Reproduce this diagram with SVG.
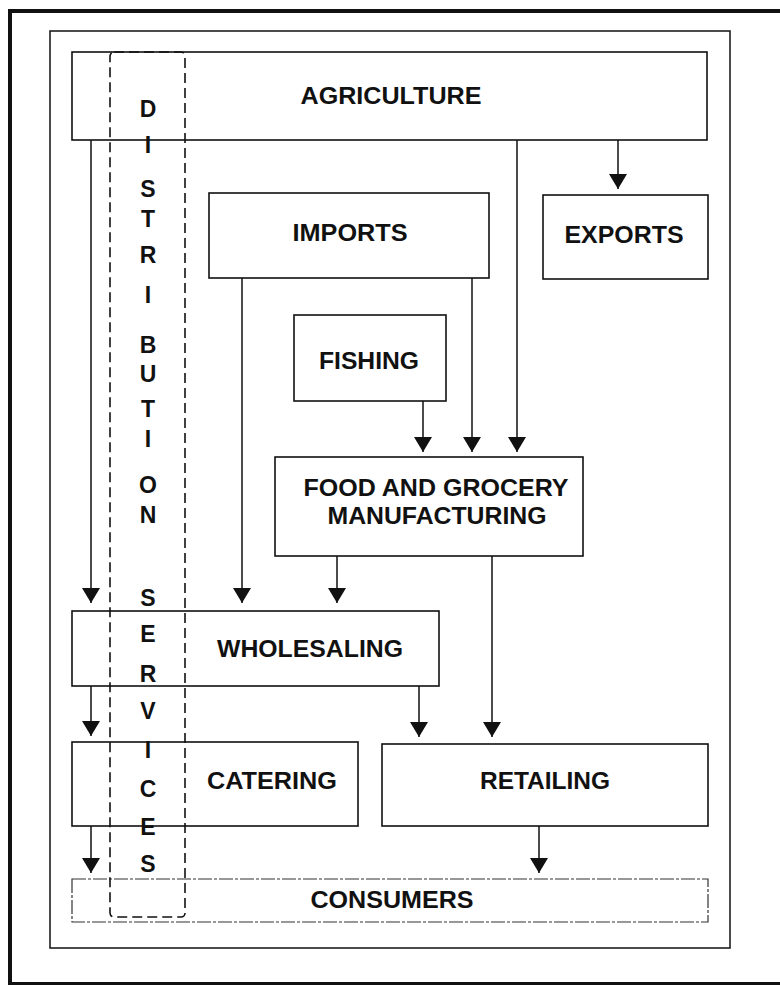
<svg xmlns="http://www.w3.org/2000/svg" width="780" height="985" viewBox="0 0 780 985">
<style>
.box{fill:none;stroke:#111;stroke-width:1.6}
.lbl{font-family:"Liberation Sans",Arial,sans-serif;font-weight:bold;font-size:24px;fill:#111;text-anchor:middle}
.ltr{font-family:"Liberation Sans",Arial,sans-serif;font-weight:bold;font-size:23px;fill:#111;text-anchor:middle}
.con{stroke:#111;stroke-width:1.5;fill:none;marker-end:url(#ah)}
</style>
<defs>
<marker id="ah" markerUnits="userSpaceOnUse" markerWidth="15" markerHeight="18" refX="15" refY="9" orient="auto" viewBox="0 0 15 18">
<path d="M0,0 L15,9 L0,18 z" fill="#111"/>
</marker>
</defs>
<rect width="780" height="985" fill="#fff"/>
<g id="frames">
<rect x="10" y="11" width="790" height="973" fill="none" stroke="#111" stroke-width="4"/>
<rect x="50" y="31" width="680" height="917" fill="none" stroke="#111" stroke-width="1.5"/>
</g>
<g id="agriculture">
<rect class="box" x="72" y="52" width="635" height="88"/>
<text class="lbl" x="391" y="104" textLength="181" lengthAdjust="spacingAndGlyphs">AGRICULTURE</text>
</g>
<g id="imports">
<rect class="box" x="209" y="193" width="280" height="85"/>
<text class="lbl" x="350" y="241" textLength="115" lengthAdjust="spacingAndGlyphs">IMPORTS</text>
</g>
<g id="exports">
<rect class="box" x="543" y="195" width="165" height="84"/>
<text class="lbl" x="624" y="243" textLength="119" lengthAdjust="spacingAndGlyphs">EXPORTS</text>
</g>
<g id="fishing">
<rect class="box" x="294" y="315" width="152" height="86"/>
<text class="lbl" x="369" y="369" textLength="100" lengthAdjust="spacingAndGlyphs">FISHING</text>
</g>
<g id="food">
<rect class="box" x="275" y="457" width="308" height="99"/>
<text class="lbl" x="436" y="496" textLength="265" lengthAdjust="spacingAndGlyphs">FOOD AND GROCERY</text>
<text class="lbl" x="437" y="524" textLength="219" lengthAdjust="spacingAndGlyphs">MANUFACTURING</text>
</g>
<g id="wholesaling">
<rect class="box" x="72" y="611" width="367" height="75"/>
<text class="lbl" x="310" y="657" textLength="186" lengthAdjust="spacingAndGlyphs">WHOLESALING</text>
</g>
<g id="catering">
<rect class="box" x="72" y="742" width="286" height="84"/>
<text class="lbl" x="272" y="789" textLength="130" lengthAdjust="spacingAndGlyphs">CATERING</text>
</g>
<g id="retailing">
<rect class="box" x="382" y="744" width="326" height="82"/>
<text class="lbl" x="545" y="789" textLength="130" lengthAdjust="spacingAndGlyphs">RETAILING</text>
</g>
<g id="consumers">
<rect x="72" y="879" width="636" height="43" fill="none" stroke="#333" stroke-width="1.2" stroke-dasharray="14 2 3 2"/>
<text class="lbl" x="392" y="908" textLength="163" lengthAdjust="spacingAndGlyphs">CONSUMERS</text>
</g>
<g id="distribution-services">
<rect x="110" y="52" width="75" height="865" rx="4" fill="none" stroke="#111" stroke-width="1.6" stroke-dasharray="10 5"/>
<text class="ltr" x="148" y="117">D</text>
<text class="ltr" x="148" y="153">I</text>
<text class="ltr" x="148" y="197">S</text>
<text class="ltr" x="148" y="227">T</text>
<text class="ltr" x="148" y="263">R</text>
<text class="ltr" x="148" y="303">I</text>
<text class="ltr" x="148" y="353">B</text>
<text class="ltr" x="148" y="382">U</text>
<text class="ltr" x="148" y="417">T</text>
<text class="ltr" x="148" y="447">I</text>
<text class="ltr" x="148" y="493">O</text>
<text class="ltr" x="148" y="523">N</text>
<text class="ltr" x="148" y="606">S</text>
<text class="ltr" x="148" y="642">E</text>
<text class="ltr" x="148" y="682">R</text>
<text class="ltr" x="148" y="719">V</text>
<text class="ltr" x="148" y="758">I</text>
<text class="ltr" x="148" y="797">C</text>
<text class="ltr" x="148" y="835">E</text>
<text class="ltr" x="148" y="872">S</text>
</g>
<g id="connectors">
<line class="con" x1="91" y1="140" x2="91" y2="603"/>
<line class="con" x1="618" y1="140" x2="618" y2="189"/>
<line class="con" x1="517" y1="140" x2="517" y2="452"/>
<line class="con" x1="242" y1="278" x2="242" y2="603"/>
<line class="con" x1="472" y1="278" x2="472" y2="452"/>
<line class="con" x1="423" y1="401" x2="423" y2="452"/>
<line class="con" x1="337" y1="556" x2="337" y2="603"/>
<line class="con" x1="492" y1="556" x2="492" y2="737"/>
<line class="con" x1="419" y1="686" x2="419" y2="737"/>
<line class="con" x1="91" y1="686" x2="91" y2="736"/>
<line class="con" x1="91" y1="826" x2="91" y2="873"/>
<line class="con" x1="539" y1="826" x2="539" y2="873"/>
</g>
</svg>
